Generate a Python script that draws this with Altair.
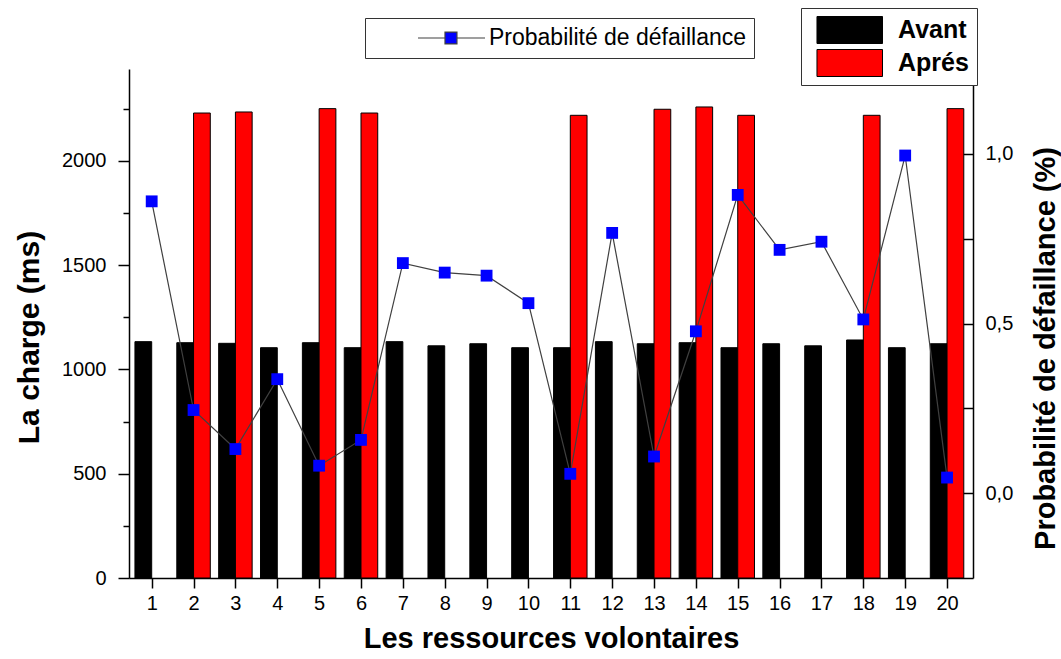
import altair as alt
import pandas as pd

# ---------------- data ----------------
ressources = list(range(1, 21))
avant = [1133, 1128, 1125, 1104, 1128, 1104, 1133, 1113, 1123, 1104,
         1104, 1133, 1123, 1128, 1104, 1123, 1113, 1141, 1104, 1123]
apres = [0, 2229, 2234, 0, 2250, 2229, 0, 0, 0, 0,
         2218, 0, 2247, 2258, 2218, 0, 0, 2218, 0, 2250]
proba = [0.860, 0.245, 0.130, 0.336, 0.081, 0.157, 0.678, 0.650, 0.641, 0.560,
         0.057, 0.767, 0.108, 0.477, 0.879, 0.717, 0.741, 0.512, 0.995, 0.046]
series_bars = ["Avant", "Aprés"]
serie_ligne = "Probabilité de défaillance"

x_ticks = [v / 2 for v in range(2, 41)]
left_ticks = list(range(0, 2251, 250))
right_ticks = [0, 0.25, 0.5, 0.75, 1.0]

bars_df = pd.DataFrame({
    "ress": ressources * 2,
    "serie": [series_bars[0]] * 20 + [series_bars[1]] * 20,
    "charge": avant + apres,
})
line_df = pd.DataFrame({"ress": ressources, "proba": proba, "nom": [serie_ligne] * 20})

FONT = "Liberation Sans, Arial, sans-serif"

# ---------------- scales / axes ----------------
x_scale = alt.Scale(domain=[0.458, 20.62], nice=False, zero=False)
x_axis = alt.Axis(
    values=x_ticks, format="d",
    labelExpr="datum.value % 1 === 0 ? datum.label : ''",
    tickSize={"condition": {"test": "datum.value % 1 === 0", "value": 10}, "value": 6},
    labelPadding=5, labelFontSize=20, labelFlush=False, labelOverlap=False,
    title="Les ressources volontaires", titleFontSize=29, titleFontWeight="bold",
    titleBaseline="alphabetic", titleY=69, grid=False,
)
left_axis = alt.Axis(
    orient="left", values=left_ticks, format="d",
    labelExpr="datum.value % 500 === 0 ? datum.label : ''",
    tickSize={"condition": {"test": "datum.value % 500 === 0", "value": 11}, "value": 6},
    labelPadding=12, labelFontSize=20, labelFlush=False, labelOverlap=False,
    title="La charge (ms)", titleFontSize=30, titleFontWeight="bold",
    titleAngle=270, titleBaseline="alphabetic", titleX=-91, titleY=268, grid=False,
)
right_axis = alt.Axis(
    orient="right", values=right_ticks,
    labelExpr="(datum.value * 2) % 1 === 0 ? replace(format(datum.value, '.1f'), '.', ',') : ''",
    ticks=False, labelPadding=12, labelFontSize=20, labelFlush=False, labelOverlap=False,
    title="Probabilité de défaillance (%)", titleFontSize=29, titleFontWeight="bold",
    titleAngle=270, titleBaseline="alphabetic", titleX=81, titleY=279, grid=False,
)
right_ticks_axis = alt.Axis(
    orient="right", values=right_ticks, offset=-10, tickSize=10,
    domain=False, labels=False, title=None, grid=False,
)

bar_legend = alt.Legend(
    title=None, orient="none", legendX=672, legendY=-61,
    symbolType="M-1,0 M3.62,0 M-0.795,-0.37 L1,-0.37 L1,0.37 L-0.795,0.37 Z",
    symbolSize=5329, symbolStrokeColor="black", symbolStrokeWidth=1,
    labelFontSize=25, labelFontWeight="bold", labelFont=FONT, labelColor="black",
    labelOffset=15, rowPadding=5, padding=8, labelLimit=400, clipHeight=28,
    strokeColor="#333333", fillColor="white",
)
line_legend = alt.Legend(
    title=None, orient="none", legendX=236, legendY=-51,
    symbolType="M-1,0 M-0.195,0 L0.284,0 M0.496,0 L0.994,0 M0.284,-0.106 L0.496,-0.106 L0.496,0.106 L0.284,0.106 Z",
    symbolSize=12700, symbolStrokeColor="#404040", symbolStrokeWidth=1.2,
    labelFontSize=23, labelFont=FONT, labelColor="black",
    labelOffset=3, padding=7, labelLimit=400, clipHeight=26,
    strokeColor="#333333", fillColor="white",
)

# ---------------- layers ----------------
bars = alt.Chart(bars_df).transform_filter("datum.charge > 0").transform_calculate(
    x0="datum.serie === 'Avant' ? datum.ress - 0.4 : datum.ress",
    x1="datum.serie === 'Avant' ? datum.ress : datum.ress + 0.4",
).mark_bar(stroke="black", strokeWidth=1).encode(
    x=alt.X("x0:Q", scale=x_scale, axis=x_axis),
    x2="x1:Q",
    y=alt.Y("charge:Q", scale=alt.Scale(domain=[0, 2440], nice=False, zero=True), axis=left_axis),
    y2=alt.datum(0),
    color=alt.Color("serie:N", scale=alt.Scale(domain=series_bars, range=["#000000", "#ff0000"]),
                    legend=bar_legend),
)

y2_scale = alt.Scale(domain=[-0.25, 1.25], nice=False, zero=False)
line = alt.Chart(line_df).mark_line(color="#404040", strokeWidth=1.2).encode(
    x=alt.X("ress:Q", scale=x_scale, axis=x_axis),
    y=alt.Y("proba:Q", scale=y2_scale, axis=right_axis),
)
pts = alt.Chart(line_df).mark_square(size=140, opacity=1, filled=True).encode(
    x=alt.X("ress:Q", scale=x_scale, axis=x_axis),
    y=alt.Y("proba:Q", scale=y2_scale, axis=right_ticks_axis),
    color=alt.Color("nom:N", scale=alt.Scale(domain=[serie_ligne], range=["#0000ff"]),
                    legend=line_legend),
)

right = alt.layer(line, pts).resolve_axis(y="independent")

chart = alt.layer(bars, right).resolve_scale(
    y="independent", color="independent"
).resolve_legend(color="independent").properties(
    width=844, height=509,
    padding={"left": 129, "top": 69, "right": 88, "bottom": 81},
    autosize=alt.AutoSizeParams(type="none"),
).configure_axis(
    labelFont=FONT, titleFont=FONT, labelColor="black", titleColor="black",
    domainColor="black", tickColor="black", domainWidth=1.5, tickWidth=1.5,
).configure_legend(labelFont=FONT).configure_view(stroke=None)

chart.save("out.html", embed_options={"renderer": "svg", "actions": False})
